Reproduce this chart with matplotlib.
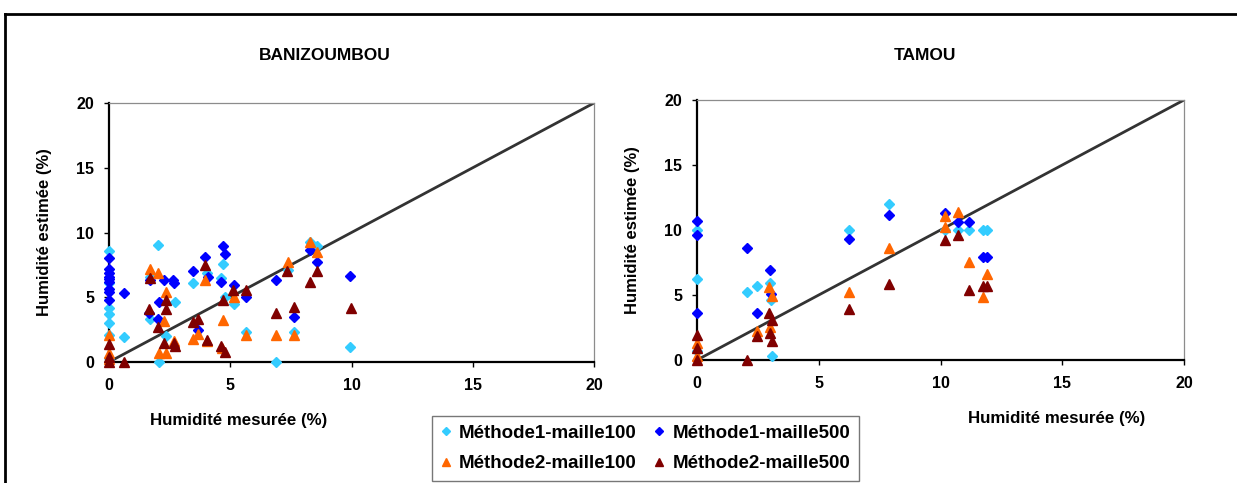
import matplotlib
matplotlib.use("Agg")
import matplotlib.pyplot as plt
from matplotlib.lines import Line2D

plt.rcParams["font.family"] = ["Liberation Sans", "DejaVu Sans"]
plt.rcParams["font.weight"] = "bold"

# ---- BANIZOUMBOU: (measured, estimated) ----
ban_m1_100_x = [0, 0, 0, 0, 0, 0, 0, 0.63, 2.03, 1.69, 2.72, 1.69, 2.34, 2.08, 3.48,
                4.06, 4.71, 4.6, 4.78, 5.15, 5.63, 6.87, 7.37, 7.63, 8.29, 8.56, 9.94]
ban_m1_100_y = [8.6, 6.1, 4.2, 3.7, 3.0, 2.1, 0.3, 1.9, 9.0, 6.6, 4.65, 3.3, 2.0, 0.0, 6.1,
                6.9, 7.55, 6.45, 5.0, 4.5, 2.35, 0.0, 7.1, 2.35, 9.3, 8.95, 1.15]

ban_m1_500_x = [0, 0, 0, 0, 0, 0, 0, 0, 0, 0.63, 1.69, 2.28, 2.63, 2.7, 2.08, 1.65,
                2.03, 3.48, 3.97, 4.1, 3.65, 4.71, 4.8, 4.6, 5.15, 5.63, 6.87, 7.63,
                8.29, 8.56, 9.94]
ban_m1_500_y = [8.0, 7.2, 6.9, 6.6, 6.4, 6.2, 5.6, 5.4, 4.8, 5.3, 6.3, 6.3, 6.3, 6.1, 4.65,
                3.75, 3.35, 7.05, 8.1, 6.6, 2.45, 8.95, 8.35, 6.15, 5.95, 5.0, 6.35, 3.5,
                8.65, 7.7, 6.65]

ban_m2_100_x = [0, 0, 0, 1.69, 2.03, 2.34, 2.28, 2.7, 2.08, 2.34, 3.96, 3.48, 3.65,
                4.06, 5.15, 4.71, 4.65, 5.63, 6.87, 7.37, 7.63, 8.29, 8.56]
ban_m2_100_y = [2.1, 0.7, 0.2, 7.2, 6.9, 5.4, 3.2, 1.6, 0.7, 0.7, 6.3, 1.8, 2.15,
                1.6, 5.05, 3.25, 1.1, 2.1, 2.1, 7.75, 2.1, 9.3, 8.5]

ban_m2_500_x = [0, 0, 0, 0.63, 1.69, 2.34, 2.34, 1.65, 2.03, 2.28, 2.68, 2.73, 3.96,
                3.48, 3.65, 4.05, 4.71, 5.13, 5.65, 4.6, 4.78, 6.9, 7.35, 7.63, 8.56,
                8.3, 9.98]
ban_m2_500_y = [1.4, 0.4, 0.0, 0.0, 6.45, 4.8, 4.1, 4.1, 2.7, 1.45, 1.45, 1.25, 7.5,
                3.1, 3.3, 1.7, 4.8, 5.55, 5.55, 1.25, 0.8, 3.75, 7.0, 4.25, 7.0,
                6.2, 4.15]

# ---- TAMOU: (measured, estimated) ----
tam_m1_100_x = [0, 0, 0, 2.07, 2.48, 3.0, 3.05, 3.1, 6.26, 7.9, 10.2, 10.7, 11.15,
                11.76, 11.9]
tam_m1_100_y = [10.0, 6.2, 0.7, 5.25, 5.7, 5.9, 4.6, 0.3, 10.0, 12.0, 10.0, 10.0, 10.0,
                10.0, 10.0]

tam_m1_500_x = [0, 0, 0, 2.07, 2.48, 3.0, 3.05, 6.26, 7.9, 10.18, 10.7, 11.15, 11.76,
                11.9]
tam_m1_500_y = [10.7, 9.6, 3.65, 8.6, 3.65, 6.9, 5.05, 9.3, 11.15, 11.3, 10.65, 10.65,
                7.95, 7.95]

tam_m2_100_x = [0, 0, 2.48, 2.95, 3.1, 3.0, 6.26, 7.9, 10.2, 10.2, 10.7, 11.15, 11.9,
                11.76]
tam_m2_100_y = [1.3, 0.3, 2.25, 5.65, 4.9, 2.55, 5.2, 8.65, 11.1, 10.25, 11.35, 7.55,
                6.6, 4.85]

tam_m2_500_x = [0, 0, 0, 2.07, 2.48, 2.95, 3.1, 3.0, 3.1, 6.26, 7.9, 10.2, 10.7,
                11.15, 11.76, 11.9]
tam_m2_500_y = [1.9, 0.9, 0.0, 0.0, 1.85, 3.65, 3.1, 2.05, 1.45, 3.9, 5.85, 9.25, 9.6,
                5.4, 5.7, 5.7]

ticks = [0, 5, 10, 15, 20]
titles = ["BANIZOUMBOU", "TAMOU"]
labels = ["Méthode1-maille100", "Méthode1-maille500",
          "Méthode2-maille100", "Méthode2-maille500"]

C_M1_100 = "#33CCFF"
C_M1_500 = "#0000FF"
C_M2_100 = "#FF6600"
C_M2_500 = "#800000"

W, H = 1237, 483
fig = plt.figure(figsize=(W / 100, H / 100), dpi=100)


def px_box(x0, y0, x1, y1):
    return [x0 / W, 1 - y1 / H, (x1 - x0) / W, (y1 - y0) / H]


def draw_panel(ax, m1_100, m1_500, m2_100, m2_500):
    ax.set_xlim(0, 20)
    ax.set_ylim(0, 20)
    ax.plot([0, 20], [0, 20], color="#333333", lw=2.0, zorder=2)
    kw = dict(linestyle="none", clip_on=False, zorder=4)
    ax.plot(*m1_100, marker="D", ms=5.4, color=C_M1_100, **kw)
    ax.plot(*m1_500, marker="D", ms=5.4, color=C_M1_500, **kw)
    ax.plot(*m2_100, marker="^", ms=7, color=C_M2_100, **kw)
    ax.plot(*m2_500, marker="^", ms=7, color=C_M2_500, **kw)
    ax.set_xticks(ticks)
    ax.set_yticks(ticks)
    for side in ("left", "bottom"):
        ax.spines[side].set_color("black")
        ax.spines[side].set_linewidth(1.6)
    for side in ("top", "right"):
        ax.spines[side].set_color("#8c8c8c")
        ax.spines[side].set_linewidth(0.9)
    ax.tick_params(axis="both", direction="out", length=3.6, width=1.0,
                   labelsize=11.5)
    ax.tick_params(axis="x", pad=8)
    ax.tick_params(axis="y", pad=7)
    for t in ax.get_xticklabels() + ax.get_yticklabels():
        t.set_fontweight("bold")


ax1 = fig.add_axes(px_box(109, 103, 594, 362))
draw_panel(ax1, (ban_m1_100_x, ban_m1_100_y), (ban_m1_500_x, ban_m1_500_y),
           (ban_m2_100_x, ban_m2_100_y), (ban_m2_500_x, ban_m2_500_y))
ax2 = fig.add_axes(px_box(697, 100, 1184, 360))
draw_panel(ax2, (tam_m1_100_x, tam_m1_100_y), (tam_m1_500_x, tam_m1_500_y),
           (tam_m2_100_x, tam_m2_100_y), (tam_m2_500_x, tam_m2_500_y))

# texts placed in pixel coords (converted to figure fractions)
def ftext(x, y, s, **kw):
    fig.text(x / W, 1 - y / H, s, ha="center", va="center",
             fontweight="bold", **kw)


ftext(325, 55, titles[0], fontsize=12.5)
ftext(925, 55, titles[1], fontsize=12.5)
ftext(45, 232, "Humidité estimée (%)", fontsize=12)
fig.texts[-1].set_rotation(90)
ftext(632, 230, "Humidité estimée (%)", fontsize=12)
fig.texts[-1].set_rotation(90)
ftext(239, 421, "Humidité mesurée (%)", fontsize=12.2)
ftext(1057, 418, "Humidité mesurée (%)", fontsize=12.2)

# legend: row 1 = Méthode1, row 2 = Méthode2
handles = [
    Line2D([], [], linestyle="none", marker="D", ms=4.5, color=C_M1_100),
    Line2D([], [], linestyle="none", marker="^", ms=6, color=C_M2_100),
    Line2D([], [], linestyle="none", marker="D", ms=4.5, color=C_M1_500),
    Line2D([], [], linestyle="none", marker="^", ms=6, color=C_M2_500),
]
leg_labels = [labels[0], labels[2], labels[1], labels[3]]
leg = fig.legend(handles, leg_labels, ncol=2, loc="upper left",
                 bbox_to_anchor=(432 / W, 1 - 416 / H),
                 prop={"weight": "bold", "size": 13.5},
                 frameon=True, fancybox=False, borderaxespad=0,
                 handlelength=0.6, handletextpad=0.4, columnspacing=0.9,
                 labelspacing=0.72, borderpad=0.45)
leg.get_frame().set_edgecolor("#555555")
leg.get_frame().set_linewidth(1.0)

# outer frame (top and left edges visible)
fig.add_artist(Line2D([5 / W, 1], [1 - 14 / H, 1 - 14 / H], color="black", lw=2.0,
                      transform=fig.transFigure))
fig.add_artist(Line2D([5 / W, 5 / W], [1 - 14 / H, 0], color="black", lw=2.0,
                      transform=fig.transFigure))

fig.savefig("out.png", dpi=100)
